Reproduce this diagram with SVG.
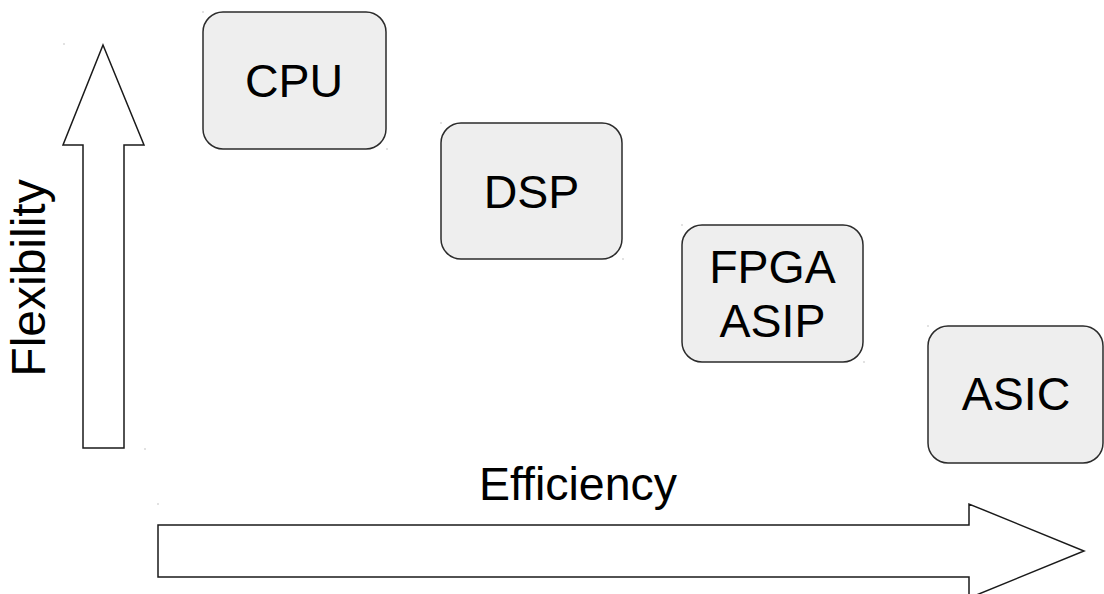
<svg xmlns="http://www.w3.org/2000/svg" width="1104" height="594" viewBox="0 0 1104 594">
  <style>
    .box { fill: #eeeeee; stroke: #2b2b2b; stroke-width: 1.5; }
    .arrow { fill: #ffffff; stroke: #1a1a1a; stroke-width: 1.5; stroke-linejoin: miter; }
    .label { font-family: "Liberation Sans", Arial, sans-serif; font-size: 46.5px; fill: #000000; text-anchor: middle; }
    .dot { fill: #8a8a8a; }
  </style>
  <rect width="1104" height="594" fill="#ffffff"/>

  <!-- axis arrows -->
  <g id="connectors">
    <polygon id="flexibility-axis" class="arrow" points="103,45 144,145 124,145 124,448 83,448 83,145 63,145"/>
    <polygon id="efficiency-axis" class="arrow" points="158,525 969,525 969,504 1084,551 969,598 969,577 158,577"/>
  </g>

  <!-- axis labels -->
  <g id="axis-labels">
    <text class="label" style="font-size:48px" transform="translate(45,278) rotate(-90)">Flexibility</text>
    <text class="label" x="578" y="500">Efficiency</text>
  </g>

  <!-- processor classes -->
  <g id="cpu">
    <rect class="box" x="203" y="12" width="183" height="137" rx="20" ry="20"/>
    <text class="label" x="294" y="97">CPU</text>
  </g>
  <g id="dsp">
    <rect class="box" x="441" y="123" width="181" height="136" rx="20" ry="20"/>
    <text class="label" x="531.5" y="208">DSP</text>
  </g>
  <g id="fpga-asip">
    <rect class="box" x="682" y="225" width="181" height="137" rx="20" ry="20"/>
    <text class="label" x="772.5" y="283">FPGA</text>
    <text class="label" x="772.5" y="337">ASIP</text>
  </g>
  <g id="asic">
    <rect class="box" x="928" y="326" width="175" height="137" rx="20" ry="20"/>
    <text class="label" x="1016" y="410">ASIC</text>
  </g>

  <!-- bounding-box corner marks -->
  <g id="marks">
    <rect class="dot" x="63.5" y="43.5" width="1" height="1"/>
    <rect class="dot" x="144.5" y="448.5" width="1" height="1"/>
    <rect class="dot" x="157.5" y="503.5" width="1" height="1"/>
    <rect class="dot" x="202.5" y="11.5" width="1" height="1"/>
    <rect class="dot" x="386.5" y="148.5" width="1" height="1"/>
    <rect class="dot" x="440.5" y="122.5" width="1" height="1"/>
    <rect class="dot" x="622.5" y="258.5" width="1" height="1"/>
    <rect class="dot" x="681.5" y="224.5" width="1" height="1"/>
    <rect class="dot" x="863.5" y="361.5" width="1" height="1"/>
    <rect class="dot" x="927.5" y="325.5" width="1" height="1"/>
  </g>
</svg>
